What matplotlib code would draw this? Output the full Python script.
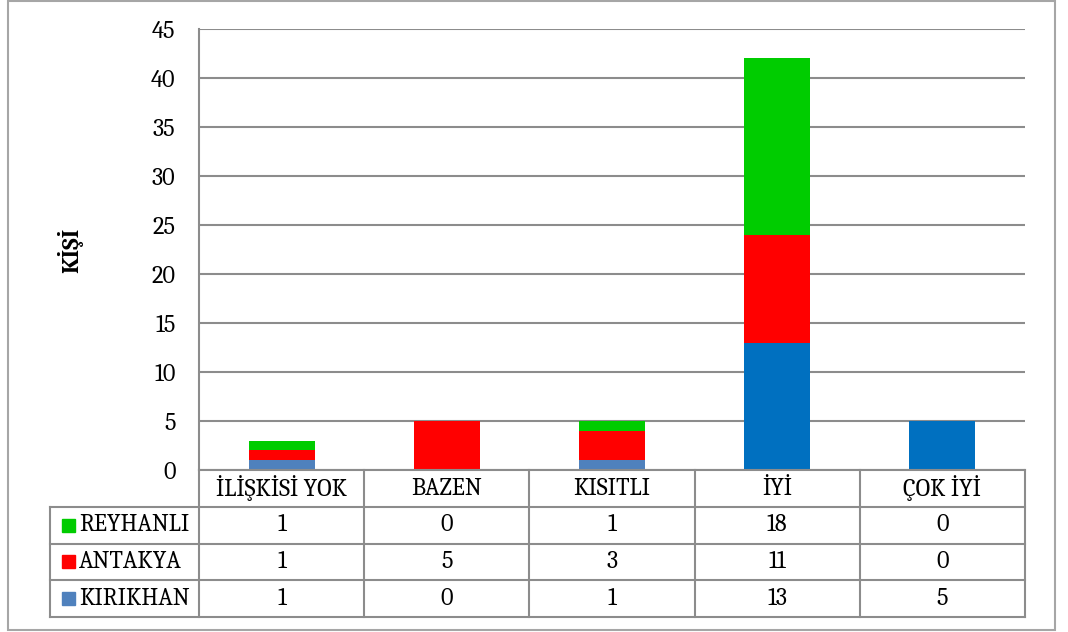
import matplotlib
matplotlib.use("Agg")
import matplotlib.pyplot as plt
from matplotlib.patches import Rectangle

plt.rcParams['font.family'] = ['Caladea', 'Liberation Serif', 'DejaVu Serif']

categories = ["İLİŞKİSİ YOK", "BAZEN", "KISITLI", "İYİ", "ÇOK İYİ"]
series = ["KIRIKHAN", "ANTAKYA", "REYHANLI"]  # bottom to top
kirikhan = [1, 0, 1, 13, 5]
antakya = [1, 5, 3, 11, 0]
reyhanli = [1, 0, 1, 18, 0]
y_ticks = [0, 5, 10, 15, 20, 25, 30, 35, 40, 45]

values = {"KIRIKHAN": kirikhan, "ANTAKYA": antakya, "REYHANLI": reyhanli}
colors = {"KIRIKHAN": "#4F81BD", "ANTAKYA": "#FF0000", "REYHANLI": "#00CC00"}
# the last two blue bars are a darker blue in the original
kirikhan_bar_colors = ["#4F81BD", "#4F81BD", "#4F81BD", "#0070C0", "#0070C0"]

W, H = 1068, 632
fig = plt.figure(figsize=(W / 100, H / 100), dpi=100)
grey = "#8c8c8c"
fs = 17.5

def fx(px):
    return px / W

def fy(py):
    return 1 - py / H

# outer frame
fig.patches.append(Rectangle((fx(8), fy(630)), fx(1055) - fx(8), fy(1) - fy(630),
                             transform=fig.transFigure, fill=False,
                             edgecolor="#a6a6a6", lw=1.5))

left, right, top, bottom = 199, 1025, 29, 470
ax = fig.add_axes([fx(left), fy(bottom), fx(right) - fx(left), fy(top) - fy(bottom)])
x = list(range(len(categories)))
base = [0] * len(categories)
for name in series:
    vals = values[name]
    cols = kirikhan_bar_colors if name == "KIRIKHAN" else colors[name]
    ax.bar(x, vals, bottom=base, width=0.4, color=cols, zorder=3)
    base = [b + v for b, v in zip(base, vals)]

ax.set_xlim(-0.5, len(categories) - 0.5)
ax.set_ylim(0, 45)
ax.set_yticks(y_ticks)
ax.set_xticks([])
ax.tick_params(axis="y", length=0, pad=17, labelsize=fs)
ax.yaxis.grid(True, color=grey, lw=1.5, zorder=0)
for s in ["top", "right", "bottom"]:
    ax.spines[s].set_visible(False)
ax.spines["left"].set_color(grey)
ax.spines["left"].set_linewidth(1.5)
fig.text(fx(70), fy(250), "KİŞİ", rotation=90, fontsize=fs, fontweight="bold",
         ha="center", va="center")

# data table below the chart
tab_bottom = 617
row_h = (tab_bottom - bottom) / 4
tab = fig.add_axes([fx(left), fy(tab_bottom), fx(right) - fx(left), fy(bottom) - fy(tab_bottom)])
tab.set_xlim(-0.5, len(categories) - 0.5)
tab.set_ylim(0, 4)
tab.axis("off")
col_w = (right - left) / len(categories)
label_left = -0.5 - (left - 50) / col_w

# horizontal lines
tab.plot([-0.5, len(categories) - 0.5], [4, 4], color=grey, lw=1.5, clip_on=False)
for yy in [3, 2, 1, 0]:
    tab.plot([label_left, len(categories) - 0.5], [yy, yy], color=grey, lw=1.5, clip_on=False)
# vertical lines
for i in range(len(categories) + 1):
    tab.plot([i - 0.5, i - 0.5], [0, 4], color=grey, lw=1.5, clip_on=False)
tab.plot([label_left, label_left], [0, 3], color=grey, lw=1.5, clip_on=False)

for i, c in enumerate(categories):
    tab.text(i, 3.5, c, ha="center", va="center", fontsize=fs)

table_rows = ["REYHANLI", "ANTAKYA", "KIRIKHAN"]
sq = 13 / col_w
for r, name in enumerate(table_rows):
    yc = 2.5 - r
    sq_x = label_left + (62 - 50) / col_w
    tab.add_patch(Rectangle((sq_x, yc - 0.5 * 13 / row_h), sq, 13 / row_h,
                            color=colors[name], clip_on=False))
    tab.text(label_left + (79 - 50) / col_w, yc, name, ha="left", va="center", fontsize=fs)
    for i, v in enumerate(values[name]):
        tab.text(i, yc, str(v), ha="center", va="center", fontsize=fs)

fig.savefig("out.png", dpi=100)
